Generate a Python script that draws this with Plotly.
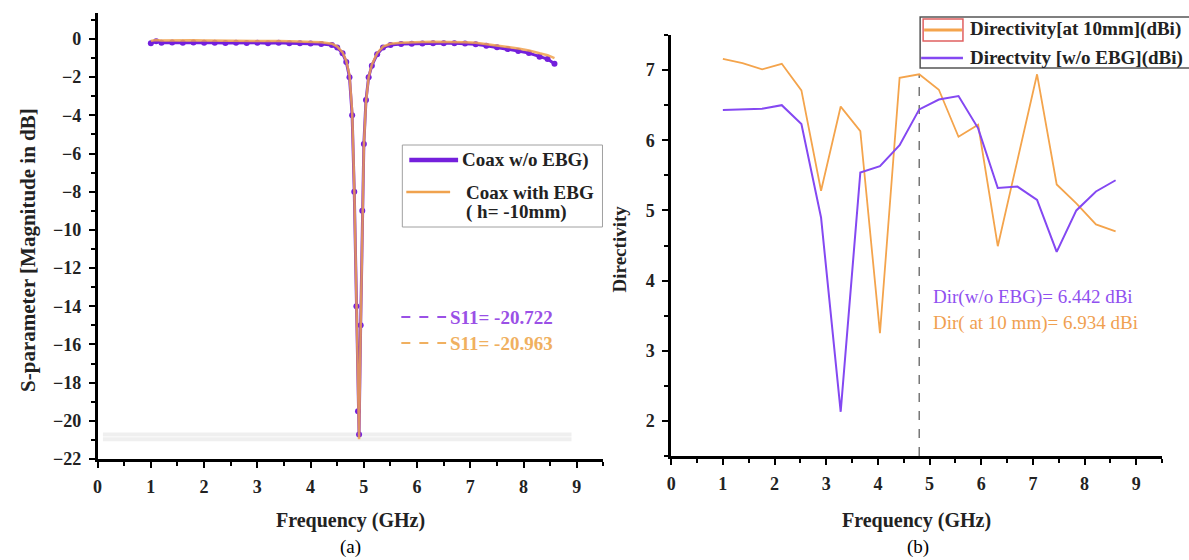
import plotly.graph_objects as go

W, H = 1189, 570
VS = 570 / 560  # vertical scale from reference pixels to figure pixels
def px(x): return x / W
def py(y): return 1 - (y * VS) / H

# ---------------- data (a) : S11 ----------------
f_s11 = [1.0, 1.1, 1.2, 1.4, 1.6, 1.8, 2.0, 2.2, 2.4, 2.6, 2.8, 3.0, 3.2, 3.4, 3.6, 3.8, 4.0, 4.2, 4.4,
         4.5, 4.6, 4.67, 4.73, 4.78, 4.82, 4.86, 4.89, 4.91, 4.94, 4.97, 5.0, 5.04, 5.09, 5.15, 5.25, 5.36,
         5.5, 5.7, 5.9, 6.1, 6.3, 6.5, 6.7, 6.9, 7.1, 7.3, 7.5, 7.7, 7.9, 8.1, 8.3, 8.45, 8.58]
s11_no_ebg = [-0.22, -0.12, -0.2, -0.18, -0.2, -0.19, -0.2, -0.2, -0.21, -0.2, -0.21, -0.2, -0.22, -0.2,
              -0.22, -0.23, -0.24, -0.26, -0.32, -0.45, -0.75, -1.2, -2.0, -4.0, -8.0, -14.0, -19.5,
              -20.722, -15.0, -9.0, -5.5, -3.2, -2.0, -1.4, -0.8, -0.45, -0.32, -0.27, -0.25, -0.24,
              -0.23, -0.22, -0.22, -0.24, -0.28, -0.35, -0.43, -0.53, -0.63, -0.74, -0.93, -1.05, -1.3]
s11_ebg = [-0.1, -0.05, -0.08, -0.07, -0.08, -0.07, -0.08, -0.08, -0.09, -0.09, -0.1, -0.1, -0.11, -0.11,
           -0.12, -0.13, -0.14, -0.17, -0.25, -0.4, -0.7, -1.15, -1.9, -3.8, -7.8, -13.8, -19.6,
           -20.963, -15.2, -9.2, -5.6, -3.3, -2.0, -1.35, -0.75, -0.4, -0.25, -0.2, -0.17, -0.16,
           -0.15, -0.15, -0.15, -0.17, -0.2, -0.26, -0.33, -0.42, -0.5, -0.6, -0.75, -0.85, -1.0]
s11_marks = [-20.722, -20.963]
mark_span = [0.1, 8.9]

# ---------------- data (b) : Directivity ----------------
f_dir = [1.0, 1.38, 1.76, 2.14, 2.52, 2.9, 3.28, 3.66, 4.04, 4.42, 4.8, 5.18, 5.56, 5.94, 6.32, 6.7,
         7.08, 7.46, 7.84, 8.22, 8.6]
dir_ebg = [7.16, 7.10, 7.01, 7.09, 6.71, 5.28, 6.48, 6.13, 3.25, 6.89, 6.94, 6.72, 6.05, 6.22, 4.49,
           5.72, 6.94, 5.37, 5.10, 4.80, 4.70]
dir_no_ebg = [6.43, 6.44, 6.45, 6.50, 6.23, 4.90, 2.13, 5.54, 5.63, 5.93, 6.44, 6.58, 6.63, 6.17, 5.32,
              5.34, 5.15, 4.41, 5.00, 5.27, 5.43]
mark_freq = 4.8
dir_mark_values = [6.442, 6.934]

PURPLE_A = "#7420dc"
ORANGE_A = "#f0a24e"
PURPLE_B = "#8448f2"
ORANGE_B = "#f4a44c"
SERIF = "Liberation Serif"

fig = go.Figure()

for v in s11_marks:
    fig.add_trace(go.Scatter(x=mark_span, y=[v, v], mode="lines",
                             line=dict(color="#efefef", width=4), xaxis="x", yaxis="y",
                             showlegend=False, hoverinfo="skip"))

fig.add_trace(go.Scatter(x=f_s11, y=s11_no_ebg, mode="lines+markers",
                         line=dict(color=PURPLE_A, width=3), marker=dict(size=6, color=PURPLE_A),
                         xaxis="x", yaxis="y", showlegend=False))
fig.add_trace(go.Scatter(x=f_s11, y=s11_ebg, mode="lines", opacity=0.85,
                         line=dict(color=ORANGE_A, width=2.5),
                         xaxis="x", yaxis="y", showlegend=False))

fig.add_trace(go.Scatter(x=[mark_freq, mark_freq], y=[1.5, max(dir_mark_values)], mode="lines",
                         line=dict(color="#777777", width=1.5, dash="dash"),
                         xaxis="x2", yaxis="y2", showlegend=False, hoverinfo="skip"))
fig.add_trace(go.Scatter(x=f_dir, y=dir_ebg, mode="lines",
                         line=dict(color=ORANGE_B, width=1.8),
                         xaxis="x2", yaxis="y2", showlegend=False))
fig.add_trace(go.Scatter(x=f_dir, y=dir_no_ebg, mode="lines",
                         line=dict(color=PURPLE_B, width=2),
                         xaxis="x2", yaxis="y2", showlegend=False))

tickfont = dict(family=SERIF, size=18, color="#222222", weight="bold")
common = dict(showline=True, linewidth=2.5, linecolor="black", showgrid=False, zeroline=False,
              ticks="outside", ticklen=6, tickwidth=2, tickcolor="black", tickfont=tickfont,
              ticklabelstandoff=4)
minor_x = dict(dtick=0.5, ticks="outside", ticklen=4, tickwidth=2, tickcolor="black")

fig.update_layout(
    width=W, height=H, margin=dict(l=0, r=0, t=0, b=0),
    paper_bgcolor="white", plot_bgcolor="white",
    xaxis=dict(domain=[px(93), px(601)], range=[0, 9.5], dtick=1, tick0=0, anchor="y",
               minor=minor_x, **common),
    yaxis=dict(domain=[py(459), py(13)], range=[-22, 1.36], dtick=2, tick0=0, anchor="x",
               minor=dict(dtick=1, ticks="outside", ticklen=4, tickwidth=2, tickcolor="black"),
               **common),
    xaxis2=dict(domain=[px(669), px(1162)], range=[0, 9.5], dtick=1, tick0=0, anchor="y2",
                minor=minor_x, **common),
    yaxis2=dict(domain=[py(456), py(35)], range=[1.5, 7.5], dtick=1, tick0=0, anchor="x2",
                minor=dict(dtick=0.5, ticks="outside", ticklen=4, tickwidth=2, tickcolor="black"),
                **common),
)

shapes = []
ann = []
def text(x, y, s, size=16, color="#222222", bold=True, anchor="center", angle=0):
    ann.append(dict(x=px(x), y=py(y), xref="paper", yref="paper", text=s, showarrow=False,
                    xanchor=anchor, yanchor="middle", textangle=angle,
                    font=dict(family=SERIF, size=size, color=color,
                              weight="bold" if bold else "normal")))
def hline(x0, x1, y, color, width, dash="solid"):
    shapes.append(dict(type="line", xref="paper", yref="paper", x0=px(x0), x1=px(x1), y0=py(y), y1=py(y),
                       line=dict(color=color, width=width, dash=dash)))

# axis titles
text(347, 520, "Frequency (GHz)", size=20)
text(915, 520, "Frequency (GHz)", size=20)
text(23, 250, "S-parameter [Magnitude in dB]", size=21, angle=-90)
text(617, 249, "Directivity", size=19, angle=-90)
text(347, 547, "(a)", size=19, color="black", bold=False)
text(917, 547, "(b)", size=19, color="black", bold=False)

# legend (a)
shapes.append(dict(type="rect", xref="paper", yref="paper", x0=px(399), x1=px(600), y0=py(145), y1=py(227),
                   line=dict(color="#a0a0a0", width=1)))
hline(406, 455, 160, PURPLE_A, 4.5)
text(457, 160, "Coax w/o EBG)", size=19, anchor="left")
hline(403, 447, 192, ORANGE_A, 2.5)
text(461, 192, "Coax with EBG", size=19, anchor="left")
text(514, 212, "( h= -10mm)", size=19)

# S11 annotations
hline(398, 443, 317, "#9a50e6", 2, "dash")
text(445, 317, "S11= %.3f" % s11_marks[0], size=19, color="#9a50e6", anchor="left")
hline(398, 443, 343, "#f0b060", 2, "dash")
text(445, 343, "S11= %.3f" % s11_marks[1], size=19, color="#f0b060", anchor="left")

# legend (b)
shapes.append(dict(type="rect", xref="paper", yref="paper", x0=px(919), x1=px(1200), y0=py(17), y1=py(68),
                   line=dict(color="#555555", width=1.5)))
shapes.append(dict(type="rect", xref="paper", yref="paper", x0=px(922), x1=px(962), y0=py(19), y1=py(41),
                   line=dict(color="#e06060", width=1.5)))
hline(923, 961, 30, ORANGE_B, 3)
text(967, 29, "Directivity[at 10mm](dBi)", size=19, anchor="left")
hline(920, 962, 58, PURPLE_B, 2.5)
text(967, 58, "Directvity [w/o EBG](dBi)", size=19, anchor="left")

# Dir annotations
text(930, 297, "Dir(w/o EBG)= %.3f dBi" % dir_mark_values[0], size=19, color="#9050f0", bold=False, anchor="left")
text(930, 323, "Dir( at 10 mm)= %.3f dBi" % dir_mark_values[1], size=19, color="#f0a050", bold=False, anchor="left")

fig.update_layout(shapes=shapes, annotations=ann)
fig.write_html("out.html", config={"displayModeBar": False},
               post_script="document.body.style.margin='0px';")
